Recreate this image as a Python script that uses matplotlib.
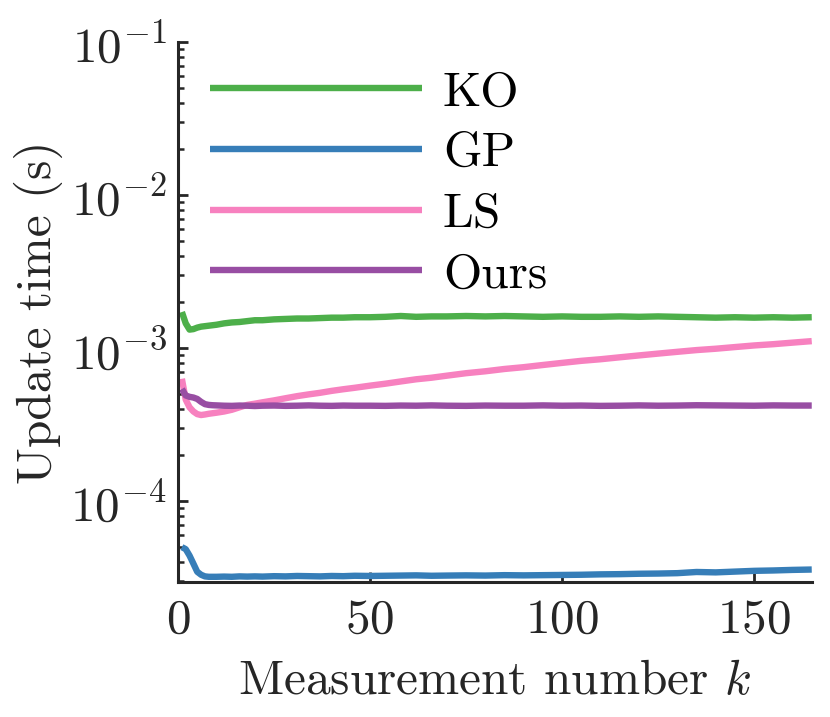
import matplotlib
matplotlib.use("Agg")
import matplotlib.pyplot as plt
from matplotlib.ticker import LogLocator, FixedLocator, NullFormatter

plt.rcParams['mathtext.fontset'] = 'cm'
plt.rcParams['font.family'] = ['cmr10', 'DejaVu Serif']
plt.rcParams['axes.formatter.use_mathtext'] = True

k = [1, 2, 3, 4, 5, 6, 7, 8, 9, 10, 12, 14, 16, 18, 20, 22, 25, 28, 31, 34, 37, 40, 43, 46,
     50, 54, 58, 62, 66, 70, 75, 80, 85, 90, 95, 100, 105, 110, 115, 120, 125, 130, 135,
     140, 145, 150, 155, 160, 165]

ko = [1.72, 1.45, 1.32, 1.33, 1.36, 1.38, 1.39, 1.40, 1.41, 1.42, 1.45, 1.47, 1.48, 1.50,
      1.52, 1.52, 1.54, 1.55, 1.56, 1.56, 1.57, 1.58, 1.58, 1.59, 1.59, 1.60, 1.62, 1.60,
      1.61, 1.61, 1.62, 1.61, 1.62, 1.61, 1.60, 1.61, 1.60, 1.60, 1.61, 1.60, 1.61, 1.60,
      1.59, 1.58, 1.59, 1.58, 1.59, 1.58, 1.59]  # x 1e-3

gp = [5.0, 4.85, 4.4, 3.9, 3.45, 3.3, 3.22, 3.2, 3.2, 3.2, 3.21, 3.2, 3.22, 3.21, 3.22,
      3.21, 3.23, 3.22, 3.24, 3.23, 3.22, 3.24, 3.23, 3.25, 3.24, 3.25, 3.26, 3.27, 3.25,
      3.26, 3.27, 3.26, 3.28, 3.27, 3.28, 3.29, 3.3, 3.32, 3.33, 3.35, 3.36, 3.38, 3.44,
      3.42, 3.46, 3.5, 3.52, 3.55, 3.57]  # x 1e-5

ls = [6.3, 4.6, 4.1, 3.85, 3.7, 3.65, 3.68, 3.72, 3.75, 3.78, 3.85, 3.95, 4.1, 4.25, 4.33,
      4.42, 4.55, 4.7, 4.85, 4.98, 5.1, 5.25, 5.38, 5.5, 5.68, 5.85, 6.05, 6.25, 6.4, 6.6,
      6.85, 7.05, 7.3, 7.5, 7.75, 8.0, 8.25, 8.45, 8.7, 8.95, 9.2, 9.45, 9.7, 9.9, 10.15,
      10.4, 10.6, 10.85, 11.1]  # x 1e-4

ours = [5.4, 4.9, 4.8, 4.75, 4.65, 4.45, 4.3, 4.25, 4.23, 4.22, 4.2, 4.19, 4.21, 4.2, 4.18,
        4.2, 4.21, 4.19, 4.2, 4.22, 4.2, 4.19, 4.21, 4.2, 4.2, 4.19, 4.21, 4.2, 4.22, 4.2,
        4.19, 4.21, 4.2, 4.2, 4.22, 4.2, 4.21, 4.19, 4.2, 4.22, 4.2, 4.21, 4.23, 4.22, 4.21,
        4.2, 4.22, 4.21, 4.21]  # x 1e-4

labels = ['KO', 'GP', 'LS', 'Ours']
colors = ['#4daf4a', '#377eb8', '#f781bf', '#984ea3']
series = [[v * 1e-3 for v in ko], [v * 1e-5 for v in gp],
          [v * 1e-4 for v in ls], [v * 1e-4 for v in ours]]

FS = 35.5

fig = plt.figure(figsize=(8.3, 7.17), dpi=100)
ax = fig.add_axes([0.2145, 0.188, 0.978 - 0.2145, 0.9414 - 0.188])

for y, c, lab in zip(series, colors, labels):
    ax.plot(k, y, color=c, lw=4.6, label=lab, solid_capstyle='butt')

ax.set_yscale('log')
ax.set_xlim(0, 165)
ax.set_ylim(2.95e-5, 1e-1)
ax.xaxis.set_major_locator(FixedLocator([0, 50, 100, 150]))
ax.yaxis.set_major_locator(LogLocator(base=10, numticks=10))
ax.yaxis.set_minor_locator(LogLocator(base=10, subs=range(2, 10), numticks=20))
ax.yaxis.set_minor_formatter(NullFormatter())

for s in ['top', 'right']:
    ax.spines[s].set_visible(False)
for s in ['left', 'bottom']:
    ax.spines[s].set_linewidth(2.2)
    ax.spines[s].set_color('#262626')

ax.tick_params(which='major', direction='in', length=7, width=2, colors='#262626',
               labelsize=FS, pad=8)
ax.tick_params(which='minor', direction='in', length=4, width=1.8, colors='#262626')
ax.tick_params(axis='x', pad=12)

ax.set_xlabel('Measurement number $k$', fontsize=FS, color='#262626', labelpad=12)
ax.set_ylabel('Update time (s)', fontsize=FS, color='#262626', labelpad=5)

ax.legend(loc='upper left', bbox_to_anchor=(0.0, 1.006), frameon=False, fontsize=FS,
          handlelength=4.3, handletextpad=0.42, labelspacing=0.33, borderaxespad=0.25,
          borderpad=0.4)

fig.savefig('out.png', dpi=100)
